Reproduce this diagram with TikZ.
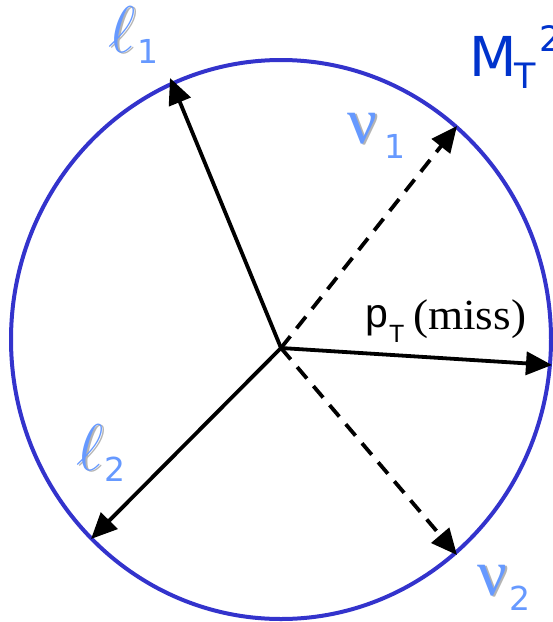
\RequirePackage{fix-cm}
\documentclass[tikz,border=0pt]{standalone}
\usepackage{fontspec}
\usetikzlibrary{arrows.meta,shapes.geometric}
\newfontfamily\dvsans{DejaVu Sans}
\newfontfamily\lsans{Liberation Sans}
\newfontfamily\lserif{Liberation Serif}
\definecolor{lblue}{HTML}{6699FF}
\definecolor{mblue}{HTML}{0033CC}
\definecolor{ringblue}{HTML}{3333CC}
\definecolor{shade}{HTML}{B4B4B4}
\begin{document}
\begin{tikzpicture}[x=1pt,y=-1pt,
  vec/.style={line width=3.8pt, -{Triangle[length=26pt,width=23pt]}},
  dvec/.style={vec, dash pattern=on 15pt off 10pt},
  lbl/.style={inner sep=0pt, anchor=base west, text=lblue},
  shd/.style={inner sep=0pt, anchor=base west, text=shade},
  big/.style={font=\fontsize{66}{66}\selectfont},
  nufont/.style={font=\lserif\fontsize{66}{66}\selectfont},
  sub/.style={font=\dvsans\fontsize{33}{33}\selectfont}
]
\useasboundingbox (0,0) rectangle (553,622);
% ring
\node[draw=ringblue, line width=4pt, ellipse, minimum width=540pt, minimum height=559pt, inner sep=0pt] (ring) at (281,339.5) {};
% vectors
\coordinate (O) at (281,348);
\coordinate (l1) at (170,78);
\coordinate (n1) at (457,126);
\coordinate (pt) at (552,365);
\coordinate (l2) at (91,539);
\coordinate (n2) at (457,555);
\draw[vec] (O) -- (l1);
\draw[vec] (O) -- (l2);
\draw[vec] (O) -- (pt);
\draw[dvec] (O) -- (n1);
\draw[dvec] (O) -- (n2);
% labels
\node[shd, big] (l1s) at (110.5,53) {$\ell$};
\node[lbl, big] (l1t) at (108,52) {$\ell$};
\node[lbl, sub] (l1i) at (137,63) {1};
\node[shd, big] (l2s) at (78.5,471) {$\ell$};
\node[lbl, big] (l2t) at (76,470) {$\ell$};
\node[lbl, sub] (l2i) at (104,481) {2};
\node[shd, nufont] (n1s) at (349.5,144.5) {ν};
\node[lbl, nufont] (n1t) at (347,143) {ν};
\node[lbl, sub] (n1i) at (384,158) {1};
\node[shd, nufont] (n2s) at (479.5,596.5) {ν};
\node[lbl, nufont] (n2t) at (477,595) {ν};
\node[lbl, sub] (n2i) at (509,610) {2};
% MT^2
\node[inner sep=0pt, anchor=base west, text=mblue, font=\dvsans\fontsize{55}{55}\selectfont] (M) at (469,76) {M};
\node[inner sep=0pt, anchor=base west, text=mblue, font=\dvsans\fontsize{35}{35}\selectfont] (MT) at (514,88) {T};
\node[inner sep=0pt, anchor=base west, text=mblue, font=\dvsans\fontsize{35}{35}\selectfont] (M2) at (539,51) {2};
% pT (miss)
\node[inner sep=0pt, anchor=base west, font=\lsans\fontsize{41}{41}\selectfont] (p) at (365,327) {p};
\node[inner sep=0pt, anchor=base west, font=\lsans\fontsize{25}{25}\selectfont] (pT) at (389,342) {T};
\node[inner sep=0pt, anchor=base west, xscale=1.05, font=\lserif\fontsize{43}{43}\selectfont] (miss) at (413,329) {(miss)};
\end{tikzpicture}
\end{document}
